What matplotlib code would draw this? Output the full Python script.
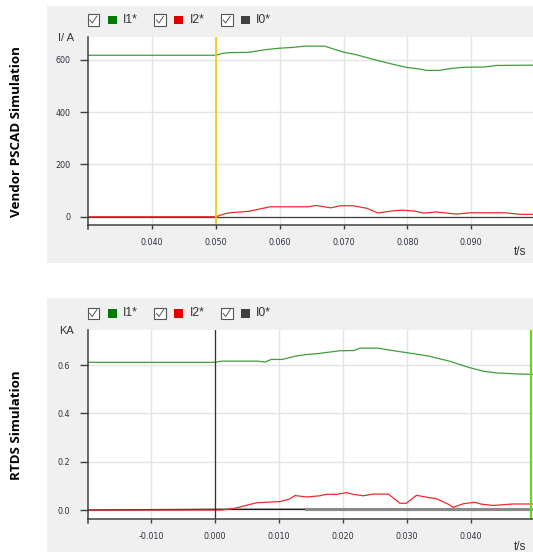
import numpy as np
import matplotlib
matplotlib.use("Agg")
import matplotlib.pyplot as plt
from matplotlib.patches import Rectangle
from matplotlib.lines import Line2D

# ---- vendor PSCAD run (time in s, current in A)
t_v_i1 = [0.030, 0.050, 0.051, 0.052, 0.055, 0.058, 0.060, 0.062, 0.064, 0.067,
          0.070, 0.072, 0.075, 0.078, 0.080, 0.082, 0.083, 0.085, 0.087, 0.089,
          0.092, 0.094, 0.0997]
v_i1 = [618, 618, 625, 628, 629, 640, 645, 648, 653, 653,
        630, 620, 600, 582, 571, 565, 560, 560, 568, 572,
        573, 579, 580]
t_v_i2 = [0.030, 0.050, 0.0515, 0.0525, 0.055, 0.0585, 0.0645, 0.0656, 0.068, 0.0695,
          0.0715, 0.0737, 0.0754, 0.0776, 0.0790, 0.081, 0.0826, 0.0846, 0.0877, 0.0898,
          0.0953, 0.0977, 0.0997]
v_i2 = [0, 0, 12, 16, 20, 38, 38, 43, 34, 42,
        42, 32, 14, 22, 25, 22, 14, 18, 10, 15,
        15, 9, 9]
t_v_i0 = [0.030, 0.0997]
v_i0 = [0, 0]

# ---- RTDS run (time in s, current in kA)
t_r_i1 = [-0.020, 0.000, 0.001, 0.0067, 0.0078, 0.0088, 0.0105, 0.0126, 0.0142, 0.0163,
          0.0195, 0.0217, 0.0227, 0.0254, 0.0275, 0.0302, 0.0334, 0.0366, 0.0398, 0.042,
          0.044, 0.0473, 0.0497]
r_i1 = [0.612, 0.612, 0.617, 0.617, 0.613, 0.624, 0.624, 0.638, 0.644, 0.649,
        0.660, 0.661, 0.671, 0.671, 0.662, 0.651, 0.638, 0.617, 0.590, 0.575,
        0.568, 0.564, 0.562]
t_r_i2 = [-0.020, 0.000, 0.001, 0.0029, 0.0065, 0.0102, 0.0117, 0.0125, 0.0143, 0.0164,
          0.0174, 0.019, 0.0206, 0.0216, 0.0232, 0.0247, 0.0271, 0.0289, 0.0299, 0.0315,
          0.0331, 0.0346, 0.0367, 0.0372, 0.0388, 0.0406, 0.0417, 0.0435, 0.0466, 0.0497]
r_i2 = [0, 0, 0, 0.006, 0.030, 0.035, 0.046, 0.060, 0.054, 0.059,
        0.065, 0.065, 0.072, 0.065, 0.059, 0.066, 0.066, 0.028, 0.028, 0.061,
        0.053, 0.047, 0.021, 0.011, 0.026, 0.032, 0.024, 0.019, 0.025, 0.025]
t_r_i0 = [-0.020, 0.0005, 0.0143, 0.0143, 0.0497]
r_i0 = [0.0, 0.003, 0.003, 0.005, 0.005]
split_i0 = 3  # index where the I0 trace turns grey

top_xticks = [0.04, 0.05, 0.06, 0.07, 0.08, 0.09]
top_yticks = [0, 200, 400, 600]
bot_xticks = [-0.01, 0.0, 0.01, 0.02, 0.03, 0.04]
bot_yticks = [0.0, 0.2, 0.4, 0.6]
legend_names = ["I1*", "I2*", "I0*"]

GREEN = "#3d9e3d"
RED = "#f02a2a"
W, H = 533, 552


def fx(x):
    return x / W


def fy(y):
    return 1 - y / H


fig = plt.figure(figsize=(W / 100, H / 100), dpi=100)
fig.patch.set_facecolor("white")

# grey panels behind each chart
for y0, y1 in [(6, 263.3), (297.7, 552)]:
    fig.patches.append(Rectangle((fx(47.3), fy(y1)), 1 - fx(47.3), (y1 - y0) / H,
                                 transform=fig.transFigure, facecolor="#f0f0f0",
                                 edgecolor="none", zorder=-5))


def draw_legend(yc):
    colors = ["#007a00", "#e00000", "#404040"]
    for i, (name, c) in enumerate(zip(legend_names, colors)):
        x0 = 87.5 + i * 66.7
        fig.patches.append(Rectangle((fx(x0), fy(yc + 5.8)), 11.6 / W, 11.6 / H,
                                     transform=fig.transFigure, facecolor="white",
                                     edgecolor="#555555", lw=0.8))
        fig.lines.append(Line2D([fx(x0 + 2.3), fx(x0 + 4.8), fx(x0 + 9.3)],
                                [fy(yc), fy(yc + 3.0), fy(yc - 3.8)],
                                transform=fig.transFigure, color="#555555", lw=0.7))
        fig.patches.append(Rectangle((fx(x0 + 20.2), fy(yc + 4.3)), 9 / W, 8.6 / H,
                                     transform=fig.transFigure, facecolor=c,
                                     edgecolor="none"))
        fig.text(fx(x0 + 35.3), fy(yc), name, fontsize=8.7, family="Liberation Sans",
                 color="#333333", va="center", ha="left")


def style_axes(ax, xticks, yticks, xfmt, yfmt):
    for s in ["top", "right"]:
        ax.spines[s].set_visible(False)
    for s in ["left", "bottom"]:
        ax.spines[s].set_color("#404040")
        ax.spines[s].set_linewidth(1.1)
    ax.plot([0, 0], [-0.024, 0], transform=ax.transAxes, color="#404040",
            lw=1.1, clip_on=False)
    ax.set_xticks(xticks)
    ax.set_yticks(yticks)
    ax.set_xticklabels([xfmt.format(v) for v in xticks])
    ax.set_yticklabels([yfmt.format(v) for v in yticks])
    ax.tick_params(axis="x", direction="out", length=3.2, width=1, color="#404040",
                   pad=6.5, labelsize=5.8, labelcolor="#2b3340")
    ax.tick_params(axis="y", direction="out", length=5.5, width=1, color="#404040",
                   pad=7.5, labelsize=5.8, labelcolor="#2b3340")
    ax.grid(True, color="#e4e4e4", lw=1)
    ax.set_axisbelow(True)


# ---- top chart
ax1 = fig.add_axes([fx(88.3), fy(224.7), 1 - fx(88.3), (224.7 - 36.7) / H])
ax1.plot(t_v_i0, v_i0, color="#404040", lw=0.9)
ax1.plot(t_v_i2, v_i2, color=RED, lw=0.9)
ax1.plot(t_v_i1, v_i1, color=GREEN, lw=0.9)
ax1.axvline(0.050, color="#f6c800", lw=1.2)
ax1.set_xlim(0.030, 0.0997)
ax1.set_ylim(-30.6, 689)
style_axes(ax1, top_xticks, top_yticks, "{:.3f}", "{:d}")
fig.text(fx(66), fy(37.7), "I/ A", fontsize=8, family="Liberation Sans",
         color="#333333", ha="center", va="center")
fig.text(fx(520), fy(252), "t/s", fontsize=8.5, family="Liberation Sans",
         color="#333333", ha="center", va="center")
draw_legend(20)

# ---- bottom chart
ax2 = fig.add_axes([fx(88.3), fy(518.7), 1 - fx(88.3), (518.7 - 330) / H])
ax2.plot(t_r_i0[:split_i0], r_i0[:split_i0], color="#1a1a1a", lw=1.0)
ax2.plot(t_r_i0[split_i0:], r_i0[split_i0:], color="#8a8a8a", lw=2.2)
ax2.plot(t_r_i2, r_i2, color=RED, lw=0.9)
ax2.plot(t_r_i1, r_i1, color=GREEN, lw=0.9)
ax2.axvline(0.0, color="#333333", lw=0.9)
ax2.axvline(0.0494, color="#66dd00", lw=1.6)
ax2.set_xlim(-0.0198, 0.0497)
ax2.set_ylim(-0.036, 0.746)
style_axes(ax2, bot_xticks, bot_yticks, "{:.3f}", "{:.1f}")
fig.text(fx(66.7), fy(331), "KA", fontsize=8, family="Liberation Sans",
         color="#333333", ha="center", va="center")
fig.text(fx(520), fy(546.7), "t/s", fontsize=8.5, family="Liberation Sans",
         color="#333333", ha="center", va="center")
draw_legend(313.5)

# panel titles on the left
fig.text(fx(17), fy(131.6), "Vendor PSCAD Simulation", rotation=90, fontsize=9.6,
         family="Open Sans", fontweight="bold", ha="center", va="center")
fig.text(fx(17), fy(425), "RTDS Simulation", rotation=90, fontsize=9.6,
         family="Open Sans", fontweight="bold", ha="center", va="center")

fig.savefig("out.png", dpi=100)
